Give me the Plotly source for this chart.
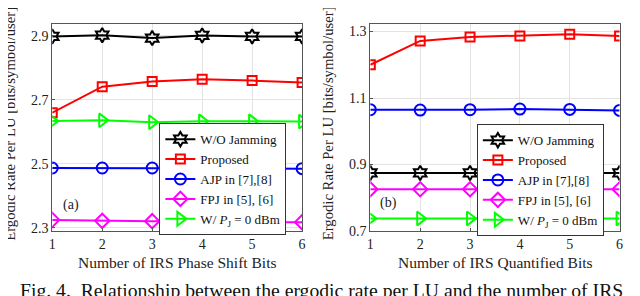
import plotly.graph_objects as go

bits = [1, 2, 3, 4, 5, 6]

# Panel (a): phase shift bits
a_wo = [2.898, 2.902, 2.893, 2.901, 2.898, 2.898]
a_prop = [2.660, 2.741, 2.757, 2.764, 2.760, 2.754]
a_ajp = [2.487, 2.487, 2.487, 2.487, 2.487, 2.485]
a_fpj = [2.325, 2.322, 2.321, 2.322, 2.318, 2.318]
a_wpj = [2.634, 2.636, 2.630, 2.633, 2.633, 2.632]

# Panel (b): quantified bits
b_wo = [0.875, 0.875, 0.875, 0.875, 0.875, 0.875]
b_prop = [1.200, 1.272, 1.284, 1.287, 1.292, 1.287]
b_ajp = [1.065, 1.064, 1.065, 1.067, 1.066, 1.063]
b_fpj = [0.826, 0.826, 0.826, 0.826, 0.826, 0.826]
b_wpj = [0.738, 0.738, 0.738, 0.736, 0.736, 0.738]

FONT = "Liberation Serif"

def serif(s):
    return "<span style='font-family:Liberation Serif, serif'>" + s + "</span>"

names = [serif("W/O Jamming"), serif("Proposed"), serif("AJP in [7],[8]"),
         serif("FPJ in [5], [6]"), serif("W/ <i>P</i><sub>J</sub> = 0 dBm")]
colors = ["#000000", "#ff0000", "#0000ff", "#ff00ff", "#00ff00"]
symbols = ["hexagram-open", "square-open", "circle-open", "diamond-open", "triangle-right-open"]
msizes = [11, 9, 11, 11, 12]

a_ticks = [2.3, 2.5, 2.7, 2.9]
b_ticks = [0.7, 0.9, 1.1, 1.3]

fig = go.Figure()
for i, ys in enumerate([a_wo, a_prop, a_ajp, a_fpj, a_wpj]):
    fig.add_trace(go.Scatter(
        x=bits, y=ys, name=names[i], mode="lines+markers",
        line=dict(color=colors[i], width=2),
        marker=dict(symbol=symbols[i], size=msizes[i], color=colors[i],
                    line=dict(color=colors[i], width=2)),
        xaxis="x", yaxis="y", legend="legend"))
for i, ys in enumerate([b_wo, b_prop, b_ajp, b_fpj, b_wpj]):
    fig.add_trace(go.Scatter(
        x=bits, y=ys, name=names[i], mode="lines+markers",
        line=dict(color=colors[i], width=2),
        marker=dict(symbol=symbols[i], size=msizes[i], color=colors[i],
                    line=dict(color=colors[i], width=2)),
        xaxis="x2", yaxis="y2", legend="legend2"))

W, H = 640, 296
def px(x):
    return x / W
def py(y):
    return (H - y) / H

axis_common = dict(
    showline=True, mirror=True, linecolor="#555555", linewidth=1,
    showgrid=True, gridcolor="#e3e3e3", gridwidth=1,
    ticks="inside", ticklen=3, tickcolor="#555555",
    zeroline=False,
    tickfont=dict(family=FONT, size=14, color="#222222"),
)

legend_common = dict(
    xanchor="left", yanchor="middle",
    bgcolor="white", bordercolor="#333333", borderwidth=1,
    font=dict(family="Liberation Serif, serif", size=13, color="#111111"),
    tracegroupgap=0, itemwidth=30,
)

fig.update_layout(
    width=W, height=H,
    margin=dict(l=0, r=0, t=0, b=0),
    paper_bgcolor="white", plot_bgcolor="white",
    font=dict(family=FONT, color="#222222"),
    xaxis=dict(domain=[px(40.7), px(293.3)], range=[1, 6], tickvals=bits,
               anchor="y", **axis_common),
    yaxis=dict(domain=[py(229.3), py(16.7)], range=[2.29, 2.936], tickvals=a_ticks,
               ticktext=["2.3", "2.5", "2.7", "2.9"], anchor="x", **axis_common),
    xaxis2=dict(domain=[px(362.3), px(614.3)], range=[1, 6], tickvals=bits,
                anchor="y2", **axis_common),
    yaxis2=dict(domain=[py(229.3), py(16.7)], range=[0.7, 1.322], tickvals=b_ticks,
                ticktext=["0.7", "0.9", "1.1", "1.3"], anchor="x2", **axis_common),
    legend=dict(x=px(149), y=py(176), **legend_common),
    legend2=dict(x=px(470), y=py(177), **legend_common),
    showlegend=True,
)

ann_font = dict(family=FONT, size=15.5, color="#222222")
yt_font = dict(family=FONT, size=14.7, color="#222222")
annotations = [
    dict(text="Number of IRS Phase Shift Bits", x=px(167), y=py(261.5), xref="paper", yref="paper",
         showarrow=False, xanchor="center", yanchor="middle", font=ann_font),
    dict(text="Number of IRS Quantified Bits", x=px(489), y=py(261.5), xref="paper", yref="paper",
         showarrow=False, xanchor="center", yanchor="middle", font=ann_font),
    dict(text="Ergodic Rate Per LU [bits/symbol/user]", x=px(-2), y=py(119), xref="paper", yref="paper",
         showarrow=False, xanchor="center", yanchor="middle", textangle=-90, font=yt_font),
    dict(text="Ergodic Rate Per LU [bits/symbol/user]", x=px(319), y=py(119), xref="paper", yref="paper",
         showarrow=False, xanchor="center", yanchor="middle", textangle=-90, font=yt_font),
    dict(text="(a)", x=1.38, y=2.373, xref="x", yref="y", showarrow=False,
         font=dict(family=FONT, size=14, color="#222222")),
    dict(text="(b)", x=1.37, y=0.783, xref="x2", yref="y2", showarrow=False,
         font=dict(family=FONT, size=14, color="#222222")),
    dict(text="Fig. 4.  Relationship between the ergodic rate per LU and the number of IRS",
         x=px(6), y=py(290), xref="paper", yref="paper", showarrow=False,
         xanchor="left", yanchor="middle", font=dict(family=FONT, size=19.7, color="#111111")),
]
fig.update_layout(annotations=annotations)

fig.write_html("out.html")
